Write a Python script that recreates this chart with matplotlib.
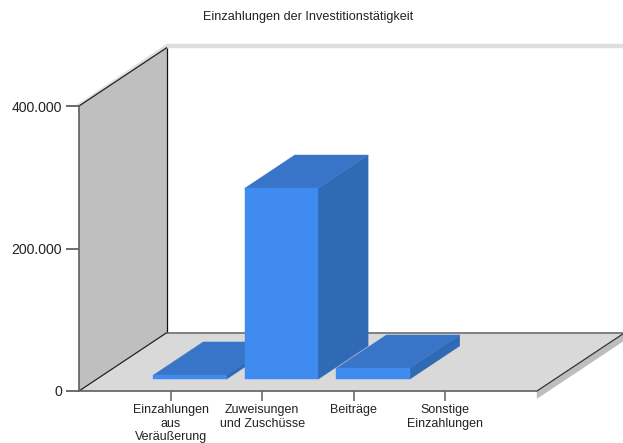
import matplotlib
matplotlib.use("Agg")
import matplotlib.pyplot as plt
from matplotlib.patches import Polygon

plt.rcParams['font.family'] = ['Liberation Sans', 'DejaVu Sans']

title = "Einzahlungen der Investitionstätigkeit"
categories = ["Einzahlungen\naus\nVeräußerung", "Zuweisungen\nund Zuschüsse", "Beiträge", "Sonstige\nEinzahlungen"]
values = [5600, 268000, 15400, 0]
yticks = [0, 200000, 400000]

W, H = 623, 443
L, R, T, B = 79, 537, 106, 391
XMIN, XMAX, YMIN, YMAX = -1.0, 4.0, 0, 400000
DX_PX, DY_PX = 88, 58.5
px_x = (XMAX - XMIN) / (R - L)
px_y = (YMAX - YMIN) / (B - T)
BAR_W = 0.8
BAR_SHIFT = 1.5 * px_x
D0, D1 = 0.2, 0.77


def p(x, y, d=0.0):
    """Oblique projection: category, value, depth fraction -> axes data."""
    return (x + d * DX_PX * px_x, y + d * DY_PX * px_y)


fig = plt.figure(figsize=(W / 100, H / 100), dpi=100)
ax = fig.add_axes([L / W, (H - B) / H, (R - L) / W, (B - T) / H])
ax.set_xlim(XMIN, XMAX)
ax.set_ylim(YMIN, YMAX)
ax.patch.set_alpha(0)


def poly(pts, color, z, edge=None):
    ax.add_patch(Polygon(pts, closed=True, facecolor=color, edgecolor=edge or color,
                         linewidth=0.3, zorder=z, clip_on=False))


def line(a, b, color, lw, z=5):
    ax.plot([a[0], b[0]], [a[1], b[1]], color=color, lw=lw, zorder=z, clip_on=False,
            solid_capstyle='butt')


# walls and floor
ext = 2.0 * px_x
top_band = 3.5 * px_y
bottom_shadow = 7.5 * px_y
# top shadow of back wall and left wall
poly([p(XMIN, YMAX, 1), p(XMAX, YMAX, 1), p(XMAX, YMAX + top_band, 1), p(XMIN, YMAX + top_band, 1)], '#dedede', 1)
poly([p(XMIN, YMAX, 0), p(XMIN, YMAX, 1), p(XMIN, YMAX + top_band, 1), p(XMIN - ext, YMAX + top_band * 0.3, 0)], '#dedede', 1)
# left wall
poly([p(XMIN, YMIN, 0), p(XMIN, YMAX, 0), p(XMIN, YMAX, 1), p(XMIN, YMIN, 1)], '#bfbfbf', 2)
# floor
poly([p(XMIN, YMIN, 0), p(XMAX, YMIN, 0), p(XMAX, YMIN, 1), p(XMIN, YMIN, 1)], '#d9d9d9', 2)
# floor shadow on the right
poly([p(XMAX, YMIN, 0), p(XMAX, YMIN, 1), p(XMAX, YMIN - bottom_shadow, 1), p(XMAX, YMIN - bottom_shadow, 0)], '#bdbdbd', 1)

line(p(XMIN, YMAX, 0), p(XMIN, YMAX, 1), '#222222', 0.9)
line(p(XMIN, YMIN, 0), p(XMIN, YMIN, 1), '#222222', 0.9)
line(p(XMAX, YMIN, 0), p(XMAX, YMIN, 1), '#333333', 0.9)
line(p(XMIN, YMIN, 1), p(XMIN, YMAX, 1), '#111111', 0.9)
line(p(XMIN, YMIN, 1), p(XMAX, YMIN, 1), '#707070', 1.2)

# bars, left to right
FRONT, TOP, SIDE = '#408bf0', '#3874c8', '#3069b4'
for i, v in enumerate(values):
    if v <= 0:
        continue
    z = 10 + i
    x0, x1 = i + BAR_SHIFT - BAR_W / 2, i + BAR_SHIFT + BAR_W / 2
    poly([p(x1, 0, D0), p(x1, 0, D1), p(x1, v, D1), p(x1, v, D0)], SIDE, z)
    poly([p(x0, v, D0), p(x1, v, D0), p(x1, v, D1), p(x0, v, D1)], TOP, z)
    poly([p(x0, 0, D0), p(x1, 0, D0), p(x1, v, D0), p(x0, v, D0)], FRONT, z)

# axes
for s in ('top', 'right'):
    ax.spines[s].set_visible(False)
for s in ('left', 'bottom'):
    ax.spines[s].set_color('#606060')
    ax.spines[s].set_linewidth(1.2)
    ax.spines[s].set_zorder(6)
ax.set_xticks(range(len(categories)))
ax.set_xticklabels(categories, fontsize=9.0, color='#222222', linespacing=1.2)
ax.set_yticks(yticks)
ax.set_yticklabels([f"{t:,}".replace(",", ".") for t in yticks], fontsize=10.1, color='#222222')
ax.tick_params(axis='x', length=7.2, width=1.1, color='#606060', pad=2)
ax.tick_params(axis='y', length=9.4, width=1.1, color='#444444', pad=3)

fig.text(308.5 / W, 1 - 17 / H, title, fontsize=9.1, color='#222222', ha='center', va='center')

fig.savefig("out.png", dpi=100, facecolor='white')
